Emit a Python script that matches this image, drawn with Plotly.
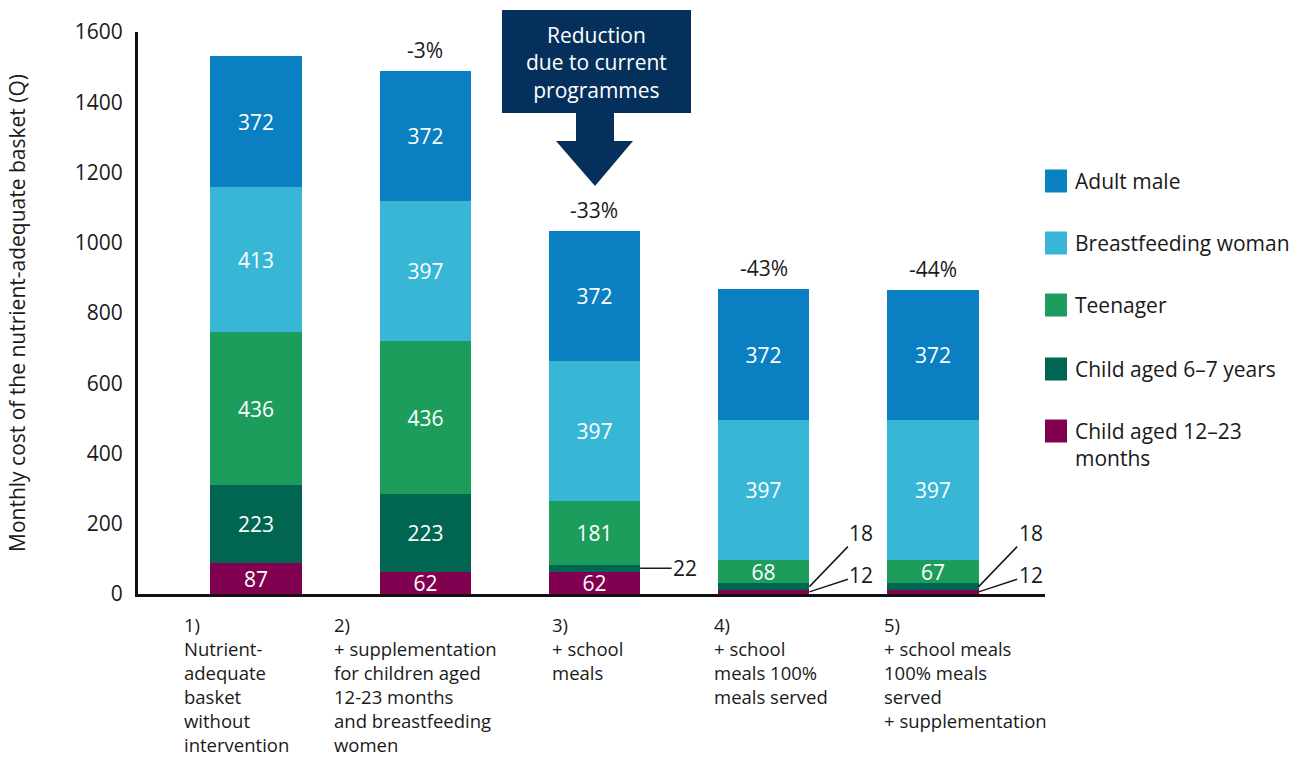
import plotly.graph_objects as go

# Scenario data: monthly cost (Q) of the nutrient-adequate basket by household member
scenarios = [
    ["1)", "Nutrient-", "adequate", "basket", "without", "intervention"],
    ["2)", "+ supplementation", "for children aged", "12-23 months", "and breastfeeding", "women"],
    ["3)", "+ school", "meals"],
    ["4)", "+ school", "meals 100%", "meals served"],
    ["5)", "+ school meals", "100% meals", "served", "+ supplementation"],
]
child_12_23 = [87, 62, 62, 12, 12]
child_6_7 = [223, 223, 22, 18, 18]
teenager = [436, 436, 181, 68, 67]
breastfeeding = [413, 397, 397, 397, 397]
adult_male = [372, 372, 372, 372, 372]
change_labels = ["", "-3%", "-33%", "-43%", "-44%"]
y_ticks = [0, 200, 400, 600, 800, 1000, 1200, 1400, 1600]

series = [
    ("Child aged 12–23 months", "Child aged 12–23<br>months", child_12_23, "#820050"),
    ("Child aged 6–7 years", "Child aged 6–7 years", child_6_7, "#006652"),
    ("Teenager", "Teenager", teenager, "#1c9d5c"),
    ("Breastfeeding woman", "Breastfeeding woman", breastfeeding, "#38b6d6"),
    ("Adult male", "Adult male", adult_male, "#0a7fc1"),
]

FONT = "Open Sans"
INK = "#1a1a1a"
FS = 21
BAR_W = 0.54
x_pos = list(range(len(scenarios)))

# plot-area frame in pixels (used to place decorations in paper coordinates)
L, R, T, B = 138, 1045, 32, 594


def px(xp):
    return (xp - L) / (R - L)


def py(yp):
    return (B - yp) / (B - T)


fig = go.Figure()
for name, _, vals, color in series:
    fig.add_trace(go.Bar(
        x=x_pos, y=vals, name=name, width=BAR_W,
        marker=dict(color=color, line=dict(width=0)),
        text=[str(v) if v >= 30 else "" for v in vals],
        textposition="inside", insidetextanchor="middle",
        constraintext="none", textangle=0,
        textfont=dict(family=FONT, size=FS, color="white"),
        showlegend=False, hoverinfo="name+y",
    ))

annotations = []


def add_text(text, x, y, anchor="left", yanchor="middle", color=INK, size=FS):
    annotations.append(dict(
        text=text, xref="paper", yref="paper", x=px(x), y=py(y),
        xanchor=anchor, yanchor=yanchor, align=anchor if anchor != "center" else "center",
        showarrow=False, font=dict(family=FONT, size=size, color=color),
    ))


# category labels under the axis
label_left = [182, 332, 550, 712, 882]
for lines, xl in zip(scenarios, label_left):
    add_text("<br>".join(lines), xl, 610, yanchor="top", size=18.5)

# percentage change above each bar
totals = [sum(s[2][i] for s in series) for i in x_pos]
for i, lab in enumerate(change_labels):
    if lab:
        annotations.append(dict(
            text=lab, x=i, y=totals[i], xref="x", yref="y", yshift=21,
            showarrow=False, yanchor="middle",
            font=dict(family=FONT, size=FS, color=INK),
        ))

# leader-line labels for the thin segments
edge = BAR_W / 2
leader = dict(xref="x", yref="y", showarrow=True, arrowhead=0, arrowwidth=1.5,
              arrowcolor=INK, standoff=0, font=dict(family=FONT, size=FS, color=INK))
annotations.append(dict(leader, text=str(child_6_7[2]), x=2 + edge,
                        y=child_12_23[2] + child_6_7[2] / 2, ax=45, ay=0))
for i in (3, 4):
    annotations.append(dict(leader, text=str(child_6_7[i]), x=i + edge,
                            y=child_12_23[i] + child_6_7[i] / 2, ax=52, ay=-54))
    annotations.append(dict(leader, text=str(child_12_23[i]), x=i + edge,
                            y=child_12_23[i] / 2, ax=52, ay=-17))

# callout arrow
navy = "#06305c"
pts = [(502, 10), (691, 10), (691, 113), (614, 113), (614, 141), (633, 141),
       (595, 186), (556, 141), (576, 141), (576, 113), (502, 113)]
path = "M " + " L ".join(f"{px(a):.5f},{py(b):.5f}" for a, b in pts) + " Z"
shapes = [dict(type="path", path=path, xref="paper", yref="paper",
               fillcolor=navy, line=dict(width=0), layer="above")]
add_text("Reduction<br>due to current<br>programmes", 596, 62, anchor="center", color="white")

# legend (top item first)
legend_y = [181, 243, 305, 369, 431]
for (name, label, _, color), yc in zip(reversed(series), legend_y):
    shapes.append(dict(type="rect", xref="paper", yref="paper",
                       x0=px(1045), x1=px(1067), y0=py(yc + 11.5), y1=py(yc - 11.5),
                       fillcolor=color, line=dict(width=0)))
    if "<br>" in label:
        add_text(label, 1073, yc - 16, yanchor="top")
    else:
        add_text(label, 1073, yc)

fig.update_layout(
    barmode="stack", bargap=0,
    width=1305, height=760,
    margin=dict(l=L, r=1305 - R, t=T, b=760 - B),
    paper_bgcolor="white", plot_bgcolor="white",
    font=dict(family=FONT, size=FS, color=INK),
    xaxis=dict(range=[-0.697, 4.662], showticklabels=False, showgrid=False,
               zeroline=False, showline=True, linecolor="#111", linewidth=3,
               fixedrange=True),
    yaxis=dict(range=[0, 1600], tickvals=y_ticks, showgrid=False, zeroline=False,
               showline=True, linecolor="#111", linewidth=3, ticks="",
               ticklabelstandoff=8,
               tickfont=dict(family=FONT, size=FS, color=INK),
               title=dict(text="Monthly cost of the nutrient-adequate basket (Q)",
                          font=dict(family=FONT, size=FS, color=INK), standoff=44),
               fixedrange=True),
    annotations=annotations,
    shapes=shapes,
    showlegend=False,
)

fig.write_html("out.html")
